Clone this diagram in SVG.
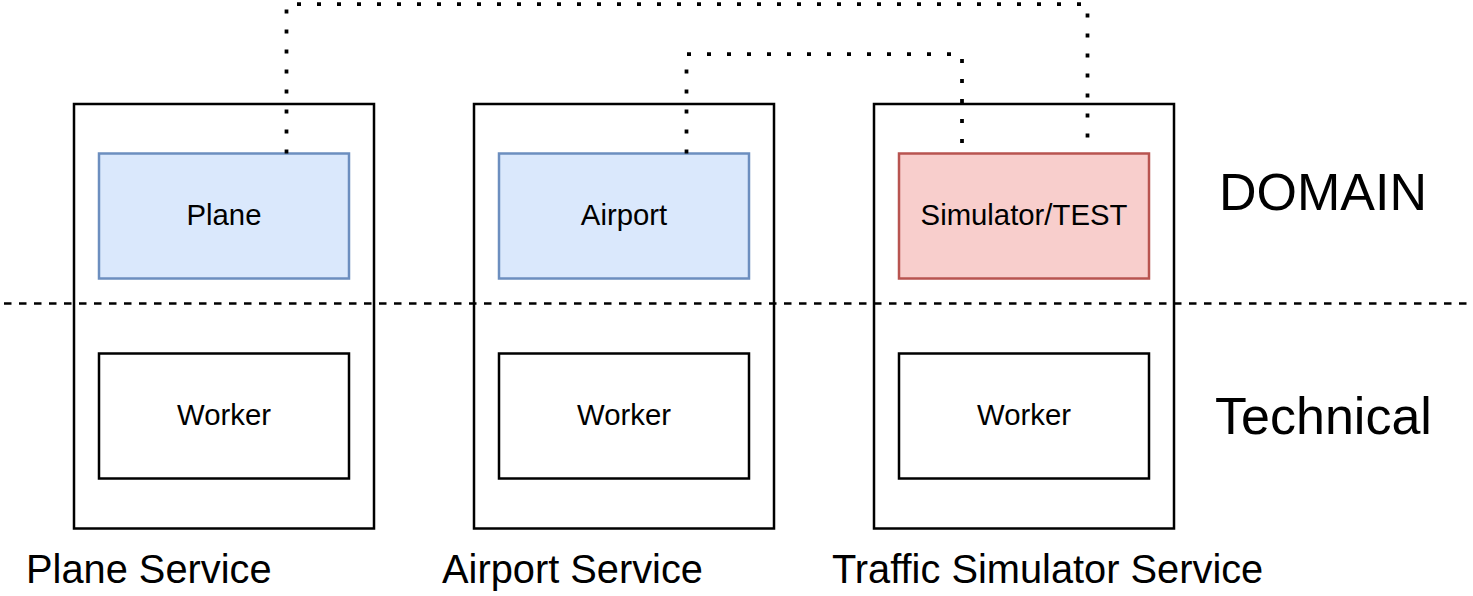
<svg xmlns="http://www.w3.org/2000/svg" width="1473" height="596" viewBox="0 0 1473 596">
<style>
.outer{fill:#ffffff;stroke:#000000;stroke-width:2.5}
.blue{fill:#dae8fc;stroke:#6c8ebf;stroke-width:2.5}
.red{fill:#f8cecc;stroke:#b85450;stroke-width:2.5}
.plain{fill:#ffffff;stroke:#000000;stroke-width:2.5}
.lbl{font-family:"Liberation Sans",Arial,sans-serif;font-size:29.3px;fill:#000000;text-anchor:middle}
.svc{font-family:"Liberation Sans",Arial,sans-serif;font-size:39.8px;fill:#000000}
.big{font-family:"Liberation Sans",Arial,sans-serif;font-size:52px;fill:#000000;text-anchor:middle}
.dot{fill:none;stroke:#000000;stroke-width:3.75;stroke-dasharray:4 16}
.sep{fill:none;stroke:#000000;stroke-width:2.5;stroke-dasharray:7.5 7.5}
</style>
<rect width="1473" height="596" fill="#ffffff"/>
<g id="plane-service">
<rect class="outer" x="74" y="104" width="300" height="424.5"/>
<text class="svc" x="26" y="583">Plane Service</text>
</g>
<g id="airport-service">
<rect class="outer" x="474" y="104" width="300" height="424.5"/>
<text class="svc" x="442" y="583">Airport Service</text>
</g>
<g id="traffic-simulator-service">
<rect class="outer" x="874" y="104" width="300" height="424.5"/>
<text class="svc" x="832" y="583">Traffic Simulator Service</text>
</g>
<g id="separator"><path class="sep" d="M4 303.5H1470"/></g>
<g id="plane"><rect class="blue" x="99" y="153.5" width="250" height="125"/><text class="lbl" x="224" y="225">Plane</text></g>
<g id="airport"><rect class="blue" x="499" y="153.5" width="250" height="125"/><text class="lbl" x="624" y="225">Airport</text></g>
<g id="simulator"><rect class="red" x="899" y="153.5" width="250" height="125"/><text class="lbl" x="1024" y="225">Simulator/TEST</text></g>
<g id="worker1"><rect class="plain" x="99" y="353.5" width="250" height="125"/><text class="lbl" x="224" y="425">Worker</text></g>
<g id="worker2"><rect class="plain" x="499" y="353.5" width="250" height="125"/><text class="lbl" x="624" y="425">Worker</text></g>
<g id="worker3"><rect class="plain" x="899" y="353.5" width="250" height="125"/><text class="lbl" x="1024" y="425">Worker</text></g>
<g id="domain-label"><text class="big" x="1323" y="210">DOMAIN</text></g>
<g id="technical-label"><text class="big" x="1323.5" y="434">Technical</text></g>
<g id="connectors">
<path class="dot" d="M286.5 153.5V4H1087.5V153.5"/>
<path class="dot" d="M686.5 153.5V54H962V153.5"/>
</g>
</svg>
